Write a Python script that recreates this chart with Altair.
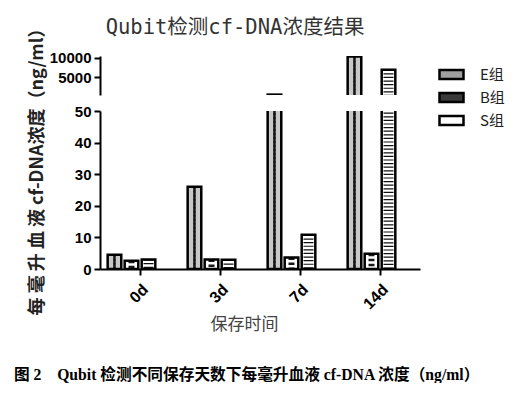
import altair as alt
import pandas as pd

days = ["0d", "3d", "7d", "14d"]
groups = ["E组", "B组", "S组"]
e_vals = [4.5, 26.0, 600.0, 10400.0]
b_vals = [2.6, 3.0, 3.6, 4.8]
s_vals = [3.0, 2.9, 10.8, 7000.0]

upper_ticks = [5000, 10000]
lower_ticks = [0, 10, 20, 30, 40, 50]

rows = []
for i, d in enumerate(days):
    rows.append({"day": d, "group": groups[0], "value": e_vals[i]})
    rows.append({"day": d, "group": groups[1], "value": b_vals[i]})
    rows.append({"day": d, "group": groups[2], "value": s_vals[i]})
df = pd.DataFrame(rows)

base = alt.Chart(df)
LABEL_FONT = "Liberation Sans"


def xoff():
    return alt.XOffset("group:N",
                       scale=alt.Scale(domain=groups + ["_"], paddingInner=0.2, paddingOuter=0.45))


def make_panel(domain, height, y_axis, x_axis, with_legend):
    yscale = alt.Scale(domain=domain, zero=False, nice=False)

    def X():
        return alt.X("day:N", sort=days, scale=alt.Scale(paddingInner=0, paddingOuter=0), axis=x_axis)

    def Y():
        return alt.Y("value:Q", scale=yscale, axis=y_axis)

    y2 = alt.Y2(datum=0)

    fill_layer = base.mark_bar(clip=True, strokeWidth=0).encode(
        x=X(), xOffset=xoff(), y=Y(), y2=y2,
        fill=alt.Fill("group:N", scale=alt.Scale(domain=groups, range=["#c8c8c8", "#ffffff", "#ffffff"]),
                      legend=None),
    )
    layers = [fill_layer]

    def rule(group, color, width, dash, dash_offset=0, dx=0):
        return base.transform_filter(alt.datum.group == group).mark_rule(
            clip=True, color=color, strokeWidth=width, strokeDash=dash,
            strokeDashOffset=dash_offset, xOffset=dx, strokeCap="butt"
        ).encode(x=X(), xOffset=xoff(), y=Y(), y2=y2)

    # E: checker
    for k, dx in enumerate([-4, -2, 0, 2, 4]):
        layers.append(rule(groups[0], "#151515", 2, [2, 2], 2 * (k % 2), dx))
    # B: dark diamonds
    layers.append(rule(groups[1], "#1a1a1a", 6, [2.5, 2.5]))
    # S: horizontal stripes
    layers.append(rule(groups[2], "#111111", 10, [1.2, 2.4]))

    outline = base.mark_bar(clip=True, fillOpacity=0, stroke="black", strokeWidth=2.5).encode(
        x=X(), xOffset=xoff(), y=Y(), y2=y2
    )
    layers.append(outline)

    if with_legend:
        leg = base.mark_point(size=0, filled=True, clip=True).encode(
            x=X(), xOffset=xoff(), y=Y(),
            color=alt.Color("group:N",
                            scale=alt.Scale(domain=groups, range=["#a0a0a0", "#3a3a3a", "#ffffff"]),
                            legend=alt.Legend(
                                title=None, orient="none", legendX=338, legendY=5,
                                symbolType="M-1,-0.375H1V0.375H-1Z", symbolSize=576,
                                symbolStrokeColor="black", symbolStrokeWidth=2.5,
                                symbolOpacity=1,
                                labelFont="Noto Sans CJK SC", labelFontSize=15, labelColor="#222",
                                labelOffset=15, rowPadding=-4, labelLimit=200,
                            )),
        )
        layers.append(leg)

    return alt.layer(*layers).properties(width=320, height=height)


upper_axis = alt.Axis(values=upper_ticks, format="d", title=None, labelFont=LABEL_FONT,
                      labelFontSize=15, labelFontWeight="bold", labelColor="black",
                      domainColor="black", domainWidth=2, tickColor="black", tickWidth=2,
                      tickSize=6, labelPadding=3, grid=False, labelOverlap=False)
lower_axis = alt.Axis(values=lower_ticks, title="每 毫 升 血 液 cf-DNA浓度（ng/ml）",
                      labelFont=LABEL_FONT, labelFontSize=15, labelFontWeight="bold",
                      labelColor="black", domainColor="black", domainWidth=2,
                      tickColor="black", tickWidth=2, tickSize=6, labelPadding=3, grid=False,
                      labelOverlap=False,
                      titleFont="Noto Sans CJK SC", titleFontSize=18, titleFontWeight="bold",
                      titleColor="#222", titleX=-63, titleY=56, titleAngle=270,
                      titleAlign="center", titleBaseline="middle")
x_axis = alt.Axis(title="保存时间", labelAngle=-45, labelFont=LABEL_FONT, labelFontSize=16,
                  labelFontWeight="bold", labelColor="black", domainColor="black",
                  domainWidth=2, tickColor="black", tickWidth=2, tickSize=6, labelPadding=6,
                  labelOverlap=False,
                  titleFont="Noto Sans CJK SC", titleFontSize=17, titleFontWeight="normal",
                  titleColor="#444", titleX=144, titleY=55, titleAlign="center",
                  titleBaseline="middle")

upper = make_panel([500, 10500], 39, upper_axis, None, True).properties(
    title=alt.TitleParams("Qubit检测cf-DNA浓度结果", font="DejaVu Sans Mono, Noto Sans CJK SC",
                          fontSize=20.5, fontWeight="normal", color="#333", anchor="middle",
                          offset=12, dx=-25)
)
lower = make_panel([0, 50], 158, lower_axis, x_axis, False)

chart = alt.vconcat(upper, lower, spacing=16, bounds="flush").resolve_scale(
    y="independent").resolve_legend(color="independent").properties(
    title=alt.TitleParams("图 2　Qubit 检测不同保存天数下每毫升血液 cf-DNA 浓度（ng/ml）",
                          orient="bottom", anchor="start",
                          font="Liberation Serif, Noto Sans CJK SC", fontSize=15.7,
                          fontWeight="bold", color="black", offset=36, dx=-14),
    padding={"left": 5, "top": 10, "right": 5, "bottom": 0},
).configure_view(stroke=None)

chart.save("out.html", embed_options={"renderer": "svg", "actions": False})
